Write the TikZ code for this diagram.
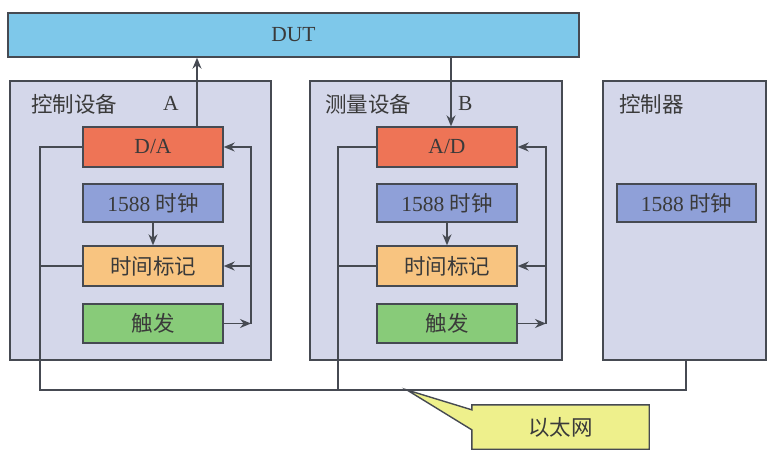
\documentclass[tikz,border=0pt]{standalone}
\usepackage{fontspec}
\setmainfont{Liberation Serif}
\newfontfamily\cjk{Noto Sans CJK SC}
\usetikzlibrary{arrows.meta}
\definecolor{linec}{HTML}{464A52}
\definecolor{txtc}{HTML}{3A3A3A}
\definecolor{dutc}{HTML}{7EC8EA}
\definecolor{devc}{HTML}{D4D7EA}
\definecolor{redc}{HTML}{EE7456}
\definecolor{clkc}{HTML}{8FA0D8}
\definecolor{tsc}{HTML}{F8C480}
\definecolor{trc}{HTML}{88CB79}
\definecolor{ethc}{HTML}{EEF08C}
\tikzset{
  box/.style={draw=linec, line width=1.4pt, inner sep=0pt, text=txtc, font=\fontsize{21.5}{24}\selectfont},
  dev/.style={box, fill=devc},
  blk/.style={box, minimum width=140pt},
  conn/.style={draw=linec, line width=1.4pt},
  arr/.style={conn, -{Stealth[length=11pt,width=9pt]}},
  ttl/.style={inner sep=0pt, text=txtc, font=\fontsize{21.5}{24}\selectfont, anchor=west},
}
\begin{document}
\begin{tikzpicture}[x=1pt, y=-1pt]
\useasboundingbox (0,0) rectangle (769,451);
% DUT
\node[box, fill=dutc, minimum width=571pt, minimum height=44pt] (DUT) at (293.5,35) {DUT};
% device boxes
\node[dev, minimum width=261pt, minimum height=279pt] (A) at (140.5,220.5) {};
\node[dev, minimum width=252pt, minimum height=279pt] (B) at (436,220.5) {};
\node[dev, minimum width=163pt, minimum height=279pt] (C) at (684.5,220.5) {};
% titles
\node[ttl] (tA) at (31,104) {\cjk 控制设备};
\node[ttl] (lA) at (163,103) {A};
\node[ttl] (tB) at (325,104) {\cjk 测量设备};
\node[ttl] (lB) at (458,103) {B};
\node[ttl] (tC) at (619,104) {\cjk 控制器};
% A blocks
\node[blk, fill=redc, minimum height=40pt] (DA) at (153,147) {D/A};
\node[blk, fill=clkc, minimum height=38pt] (CA) at (153,203) {1588 {\cjk 时钟}};
\node[blk, fill=tsc, minimum height=40pt] (TA) at (153,266) {\cjk 时间标记};
\node[blk, fill=trc, minimum height=39pt] (RA) at (153,323.5) {\cjk 触发};
% B blocks
\node[blk, fill=redc, minimum height=40pt] (AD) at (447,147) {A/D};
\node[blk, fill=clkc, minimum height=38pt] (CB) at (447,203) {1588 {\cjk 时钟}};
\node[blk, fill=tsc, minimum height=40pt] (TB) at (447,266) {\cjk 时间标记};
\node[blk, fill=trc, minimum height=39pt] (RB) at (447,323.5) {\cjk 触发};
% C block
\node[blk, fill=clkc, minimum height=38pt, minimum width=139pt] (CC) at (686.5,203) {1588 {\cjk 时钟}};
% coordinates
\coordinate (busL) at (40,390);
\coordinate (busB) at (338,390);
\coordinate (busR) at (686,390);
\coordinate (loopA) at (251,0);
\coordinate (loopB) at (546,0);
\coordinate (tip) at (407,390);
% DUT connections
\draw[arr] ([xshift=44pt]DA.north) -- ([xshift=44pt]DA.north |- DUT.south);
\draw[arr] ([xshift=4pt]AD.north |- DUT.south) -- ([xshift=4pt]AD.north);
% clock to timestamp
\draw[arr] (CA.south) -- (TA.north);
\draw[arr] (CB.south) -- (TB.north);
% trigger loops
\draw[arr] (RA.east) -- (RA.east -| loopA);
\draw[arr] (RA.east -| loopA) |- (DA.east);
\draw[arr] (TA.east -| loopA) -- (TA.east);
\draw[arr] (RB.east) -- (RB.east -| loopB);
\draw[arr] (RB.east -| loopB) |- (AD.east);
\draw[arr] (TB.east -| loopB) -- (TB.east);
% ethernet bus
\draw[conn] (DA.west) -| (busL) -- (busR) -- (busR |- C.south);
\draw[conn] (TA.west) -- (TA.west -| busL);
\draw[conn] (AD.west) -| (busB);
\draw[conn] (TB.west) -- (TB.west -| busB);
% callout
\node[inner sep=0pt, minimum width=177pt, minimum height=44pt] (eth) at (560.5,427) {};
\draw[conn, fill=ethc] (eth.north west) -- ([yshift=-5pt]eth.north west) -- (tip) -- ([yshift=-25pt]eth.north west) -- (eth.south west) -- (eth.south east) -- (eth.north east) -- cycle;
\node[inner sep=0pt, text=txtc, font=\fontsize{21.5}{24}\selectfont] (ethl) at (eth) {\cjk 以太网};
\end{tikzpicture}
\end{document}
